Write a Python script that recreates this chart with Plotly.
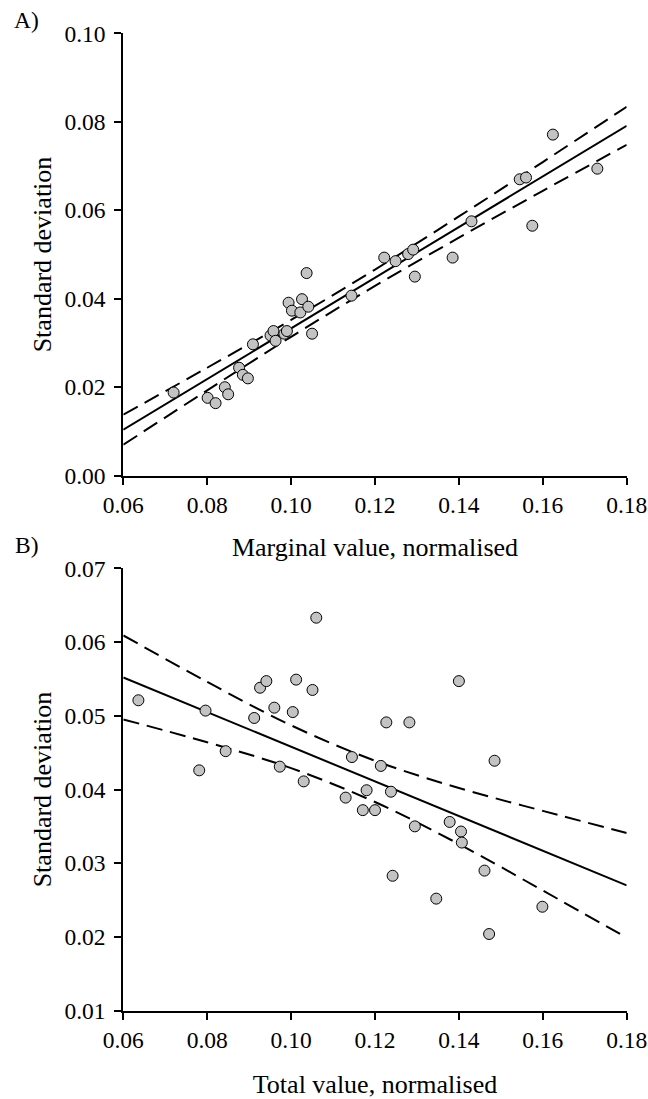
import plotly.graph_objects as go

W, H = 648, 1099

# ---- Panel A: marginal value vs standard deviation ----
a_x = [0.0720, 0.0801, 0.0820, 0.0842, 0.0850, 0.0876, 0.0885, 0.0897, 0.0909,
       0.0951, 0.0958, 0.0963, 0.0984, 0.0990, 0.0994, 0.1002, 0.1022, 0.1026,
       0.1037, 0.1041, 0.1050, 0.1144, 0.1222, 0.1249, 0.1279, 0.1291, 0.1295,
       0.1385, 0.1430, 0.1545, 0.1560, 0.1575, 0.1624, 0.1730]
a_y = [0.0188, 0.0176, 0.0164, 0.0200, 0.0184, 0.0244, 0.0228, 0.0220, 0.0297,
       0.0317, 0.0327, 0.0305, 0.0321, 0.0327, 0.0391, 0.0373, 0.0369, 0.0399,
       0.0458, 0.0382, 0.0321, 0.0407, 0.0493, 0.0485, 0.0501, 0.0511, 0.0450,
       0.0493, 0.0575, 0.0670, 0.0674, 0.0565, 0.0771, 0.0694]
fit_x = [0.06, 0.18]
a_fit = [0.0104, 0.0791]
band_x = [0.06, 0.08, 0.10, 0.12, 0.14, 0.16, 0.18]
a_upper = [0.0138, 0.0244, 0.0352, 0.0466, 0.0586, 0.0709, 0.0834]
a_lower = [0.0070, 0.0193, 0.0314, 0.0429, 0.0538, 0.0644, 0.0748]

# ---- Panel B: total value vs standard deviation ----
b_x = [0.0636, 0.0781, 0.0796, 0.0844, 0.0912, 0.0926, 0.0941, 0.0960, 0.0973,
       0.1004, 0.1012, 0.1030, 0.1051, 0.1060, 0.1130, 0.1145, 0.1171, 0.1180,
       0.1200, 0.1214, 0.1227, 0.1238, 0.1242, 0.1282, 0.1295, 0.1346, 0.1378,
       0.1400, 0.1405, 0.1407, 0.1461, 0.1472, 0.1485, 0.1599]
b_y = [0.0521, 0.0426, 0.0507, 0.0452, 0.0497, 0.0538, 0.0547, 0.0511, 0.0431,
       0.0505, 0.0549, 0.0411, 0.0535, 0.0633, 0.0389, 0.0444, 0.0372, 0.0399,
       0.0372, 0.0432, 0.0491, 0.0397, 0.0283, 0.0491, 0.0350, 0.0252, 0.0356,
       0.0547, 0.0343, 0.0328, 0.0290, 0.0204, 0.0439, 0.0241]
b_fit = [0.0552, 0.0270]
b_upper = [0.0609, 0.0546, 0.0487, 0.0439, 0.0402, 0.0371, 0.0341]
b_lower = [0.0495, 0.0464, 0.0429, 0.0383, 0.0326, 0.0263, 0.0199]

FONT = "Liberation Serif, Times New Roman, serif"
FS_TICK = 23.5
FS_TITLE = 22
DASH = "16px,8px"

fig = go.Figure()


def add_panel(xs, ys, fit, upper, lower, xa, ya):
    for band in (upper, lower):
        fig.add_trace(go.Scatter(x=band_x, y=band, mode="lines", line_shape="spline",
                                 line=dict(color="black", width=2, dash=DASH),
                                 xaxis=xa, yaxis=ya, hoverinfo="skip"))
    fig.add_trace(go.Scatter(x=fit_x, y=fit, mode="lines",
                             line=dict(color="black", width=2),
                             xaxis=xa, yaxis=ya, hoverinfo="skip"))
    fig.add_trace(go.Scatter(x=xs, y=ys, mode="markers",
                             marker=dict(size=11, color="#c3c3c3",
                                         line=dict(color="black", width=1)),
                             xaxis=xa, yaxis=ya))


add_panel(a_x, a_y, a_fit, a_upper, a_lower, "x", "y")
add_panel(b_x, b_y, b_fit, b_upper, b_lower, "x2", "y2")

x_dom = [123.3 / W, 626.7 / W]
a_dom = [1 - 475.7 / H, 1 - 33.3 / H]
b_dom = [1 - 1010.7 / H, 1 - 568.3 / H]

axis_common = dict(showline=True, linewidth=2, linecolor="black", ticks="outside",
                   ticklen=7, tickwidth=2, tickcolor="black", showgrid=False,
                   zeroline=False, tickformat=".2f", automargin=False,
                   tickfont=dict(size=FS_TICK, color="black", family=FONT))

fig.update_layout(
    width=W, height=H,
    margin=dict(l=0, r=0, t=0, b=0),
    paper_bgcolor="white", plot_bgcolor="white",
    showlegend=False,
    font=dict(family=FONT, size=FS_TITLE, color="black"),
    xaxis=dict(domain=x_dom, range=[0.06, 0.18], dtick=0.02, tick0=0.06,
               anchor="y", title=dict(text="Marginal value, normalised", standoff=21),
               **axis_common),
    yaxis=dict(domain=a_dom, range=[0, 0.10], dtick=0.02, tick0=0,
               anchor="x", title=dict(text="Standard deviation", standoff=5),
               ticklabelstandoff=4, **axis_common),
    xaxis2=dict(domain=x_dom, range=[0.06, 0.18], dtick=0.02, tick0=0.06,
                anchor="y2", title=dict(text="Total value, normalised", standoff=27),
                **axis_common),
    yaxis2=dict(domain=b_dom, range=[0.01, 0.07], dtick=0.01, tick0=0.01,
                anchor="x2", title=dict(text="Standard deviation", standoff=5),
                ticklabelstandoff=4, **axis_common),
    annotations=[
        dict(text="A)", x=12 / W, y=1 - 20 / H, xref="paper", yref="paper",
             xanchor="left", yanchor="middle", showarrow=False,
             font=dict(size=FS_TICK, family=FONT, color="black")),
        dict(text="B)", x=13 / W, y=1 - 545 / H, xref="paper", yref="paper",
             xanchor="left", yanchor="middle", showarrow=False,
             font=dict(size=FS_TICK, family=FONT, color="black")),
    ],
)

# drop the default 8px body margin so the figure fills the window exactly
fig.write_html("out.html", config={"displayModeBar": False},
               post_script="document.body.style.margin='0px';")
